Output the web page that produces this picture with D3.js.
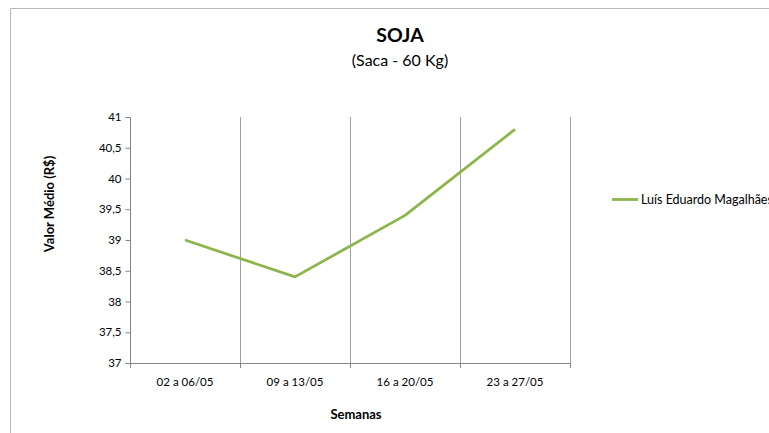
<!DOCTYPE html>
<html><head><meta charset="utf-8">
<script src="https://cdn.jsdelivr.net/npm/d3@7"></script>
<style>body{margin:0;background:#fff}svg{display:block;font-family:Lato,"Open Sans",sans-serif}</style>
</head><body>
<svg id="c" width="769" height="433"></svg>
<script>
const categories = ["02 a 06/05", "09 a 13/05", "16 a 20/05", "23 a 27/05"];
const seriesName = "Luís Eduardo Magalhães";
const values = [39, 38.4, 39.4, 40.8];
const yTicks = [37, 37.5, 38, 38.5, 39, 39.5, 40, 40.5, 41];
const fmt = d => String(d).replace(".", ",");

const svg = d3.select("#c");
const m = {l:130, r:570, t:117, b:363};
// chart border
svg.append("path").attr("d", "M10.5,433 V8.5 H769").attr("fill","none").attr("stroke","#b9b9b9").attr("stroke-width",1);

const x = d3.scaleBand().domain(categories).range([m.l, m.r]);
const y = d3.scaleLinear().domain([37, 41]).range([m.b, m.t]);

// vertical gridlines at category boundaries
const bounds = categories.map(c => x(c) + x.bandwidth());
svg.append("g").selectAll("line").data(bounds).join("line")
  .attr("x1", d => d + 0.5).attr("x2", d => d + 0.5)
  .attr("y1", m.t).attr("y2", m.b)
  .attr("stroke", "#a0a0a0").attr("stroke-width", 1);

// y axis
const ya = svg.append("g").attr("transform", `translate(${m.l + 0.5},0)`)
  .call(d3.axisLeft(y).tickValues(yTicks).tickFormat(fmt).tickSize(5).tickPadding(4));
ya.select(".domain").attr("stroke", "#868686").attr("d", `M-5,${m.t+0.5}H0V${m.b+0.5}H-5`);
ya.selectAll(".tick line").attr("stroke", "#868686");
ya.selectAll(".tick text").attr("font-size", 11.5).attr("fill", "#000").attr("font-family","Lato,'Open Sans',sans-serif");

// x axis
const xa = svg.append("g").attr("transform", `translate(0,${m.b + 0.5})`)
  .call(d3.axisBottom(x).tickSize(0).tickPadding(14));
xa.select(".domain").attr("stroke", "#868686").attr("d", `M${m.l},0H${m.r+0.5}`);
xa.selectAll(".tick text").attr("font-size", 11.5).attr("fill", "#000").attr("font-family","Lato,'Open Sans',sans-serif");
svg.append("g").selectAll("line").data([m.l].concat(bounds)).join("line")
  .attr("x1", d => d + 0.5).attr("x2", d => d + 0.5)
  .attr("y1", m.b).attr("y2", m.b + 5).attr("stroke", "#868686");

// line
const line = d3.line().x((d, i) => x(categories[i]) + x.bandwidth() / 2).y(d => y(d));
svg.append("path").datum(values).attr("d", line)
  .attr("fill", "none").attr("stroke", "#8db54b").attr("stroke-width", 2.8).attr("stroke-linejoin","round");

// titles
svg.append("text").attr("x", 400).attr("y", 42).attr("text-anchor", "middle")
  .attr("font-size", 19.5).attr("font-weight", "bold").text("SOJA");
svg.append("text").attr("x", 400).attr("y", 66).attr("text-anchor", "middle")
  .attr("font-size", 16).text("(Saca - 60 Kg)");
svg.append("text").attr("transform", "translate(54,204) rotate(-90)").attr("text-anchor", "middle")
  .attr("font-size", 13).attr("font-weight", "bold").text("Valor Médio (R$)");
svg.append("text").attr("x", 356).attr("y", 419).attr("text-anchor", "middle")
  .attr("font-size", 13).attr("font-weight", "bold").text("Semanas");

// legend
svg.append("line").attr("x1", 612).attr("x2", 638).attr("y1", 199.5).attr("y2", 199.5)
  .attr("stroke", "#8db54b").attr("stroke-width", 2.8);
svg.append("text").attr("x", 641).attr("y", 204).attr("font-size", 12.5).text(seriesName);
</script>
</body></html>
